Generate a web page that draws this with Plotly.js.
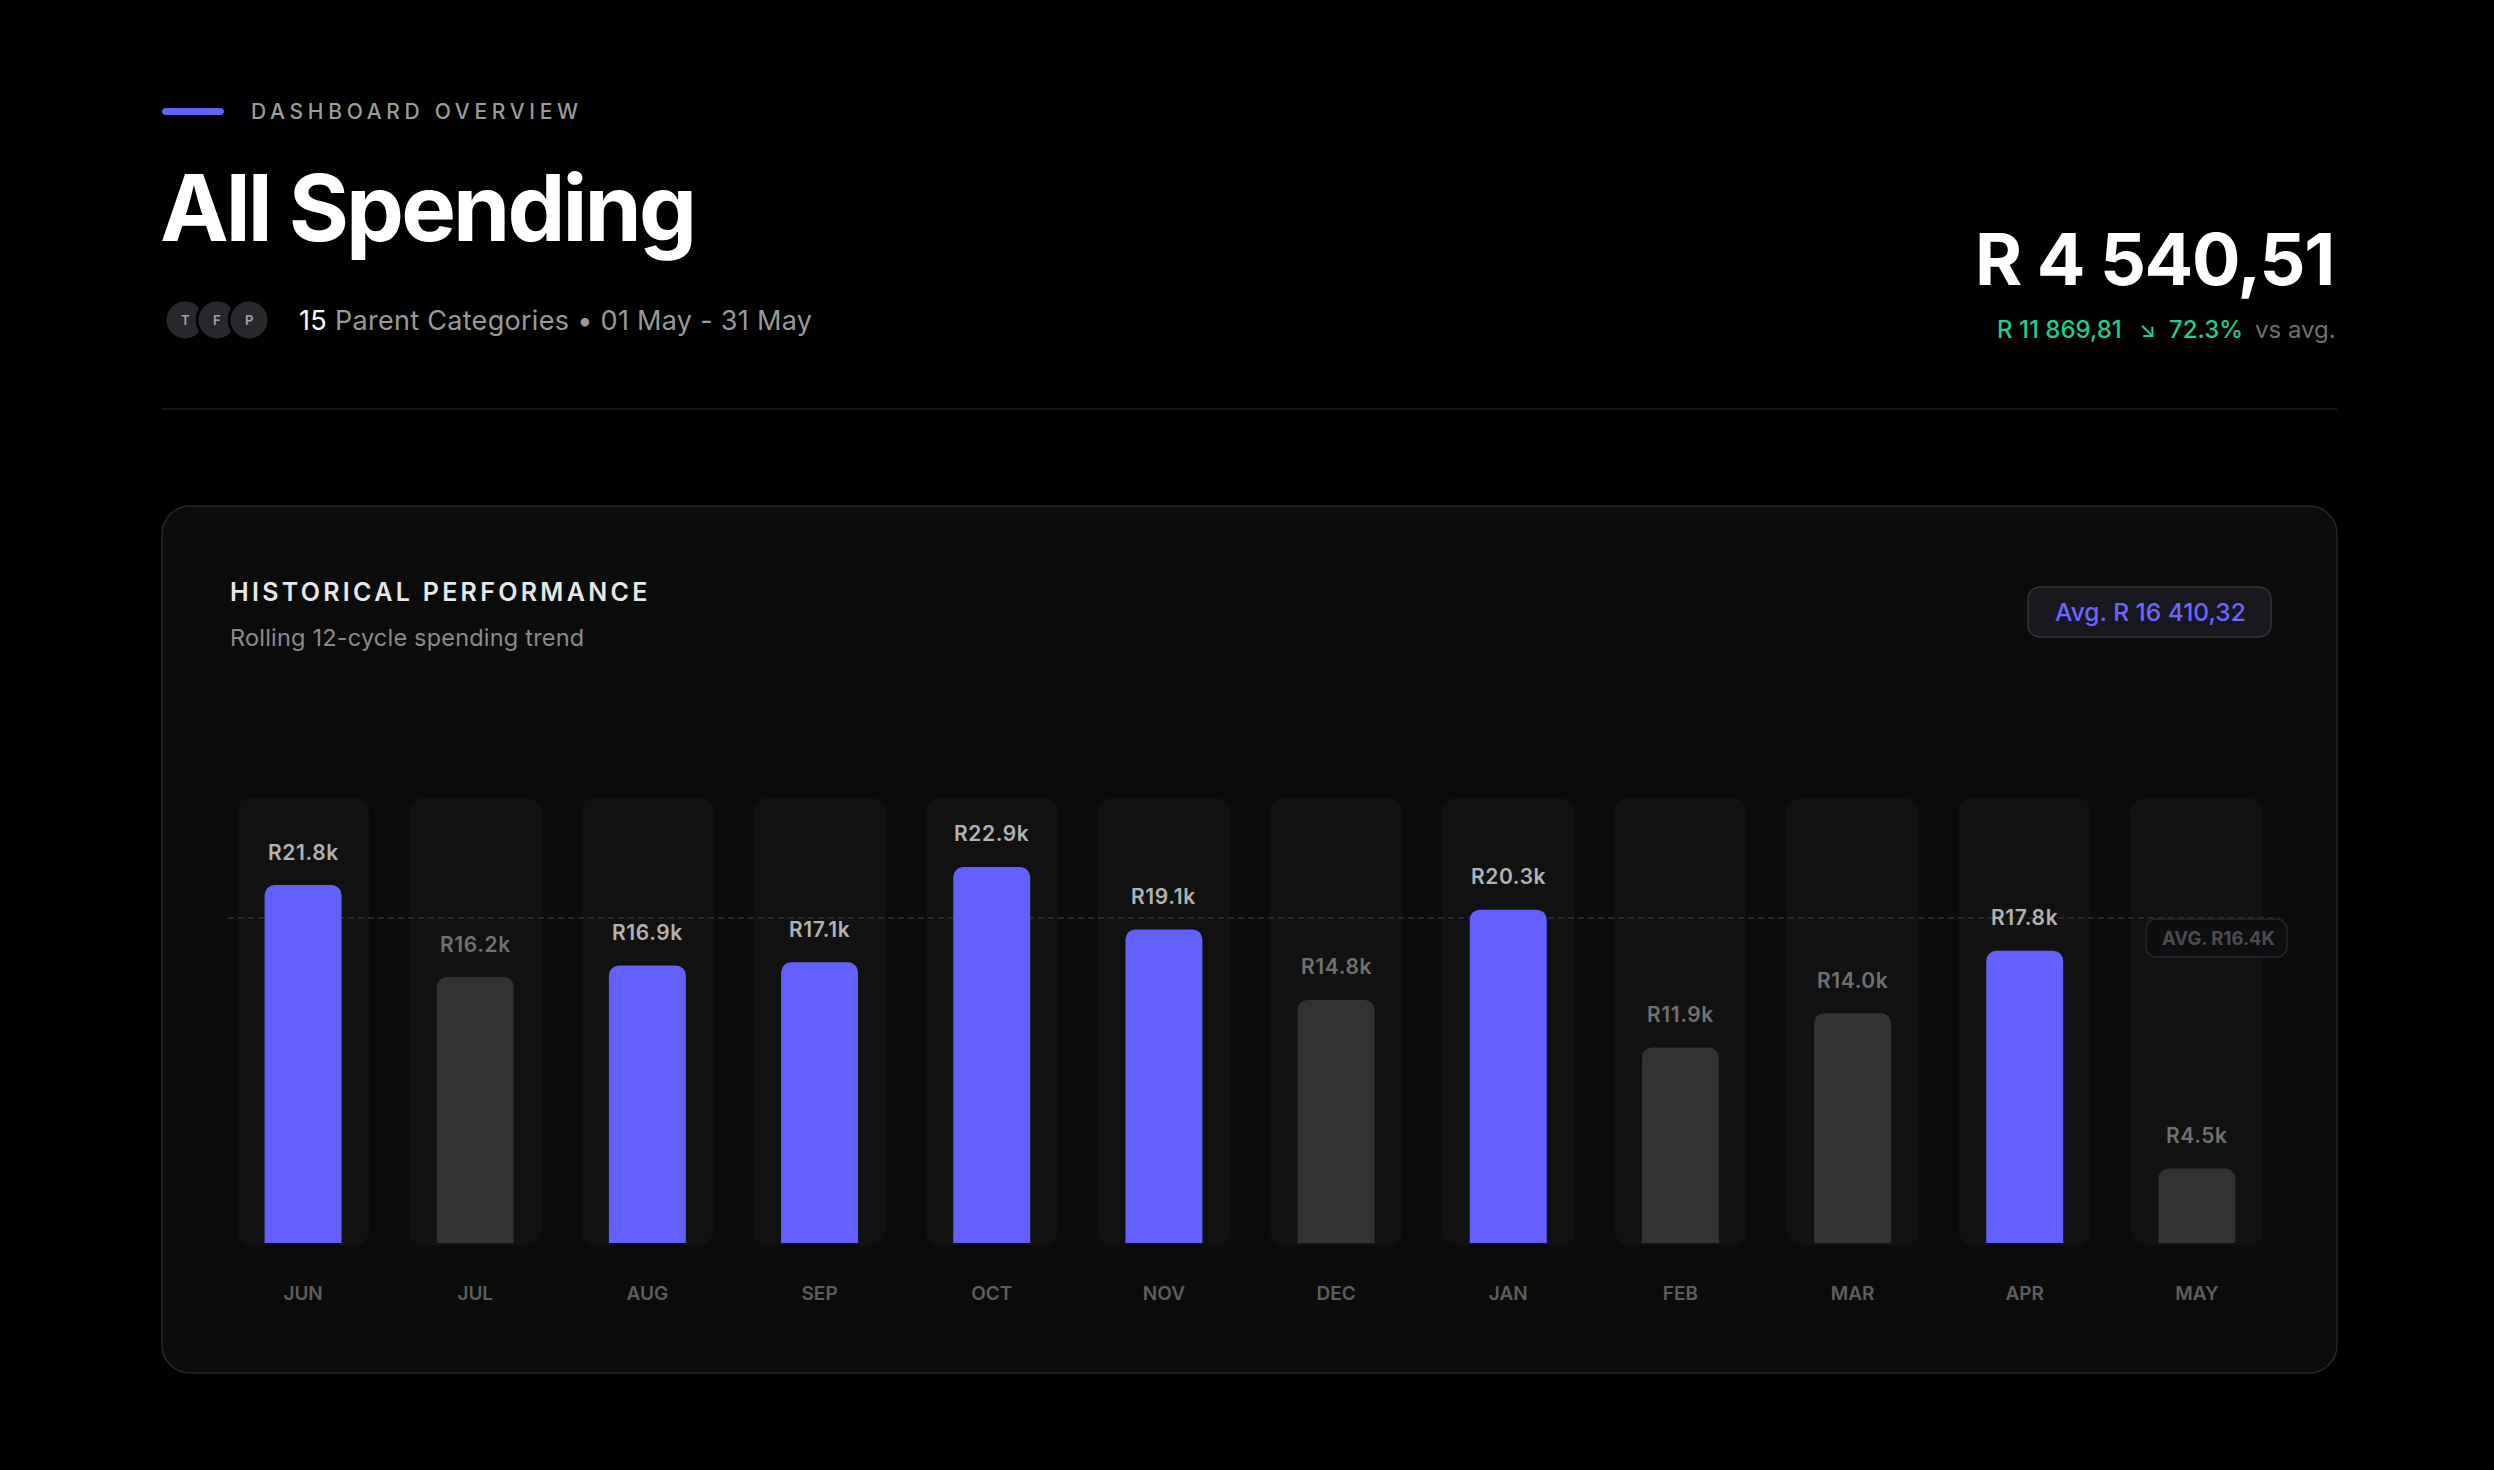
<!DOCTYPE html>
<html>
<head>
<meta charset="utf-8">
<script src="https://cdn.plot.ly/plotly-3.0.1.min.js"></script>
<style>
html,body{margin:0;padding:0;background:#000;overflow:hidden;}
#chart{width:2494px;height:1470px;}
</style>
</head>
<body>
<div id="chart"></div>
<script>
// ---------------- DATA ----------------
const months = ['JUN','JUL','AUG','SEP','OCT','NOV','DEC','JAN','FEB','MAR','APR','MAY'];
const spending = [21800, 16200, 16900, 17100, 22900, 19100, 14800, 20300, 11900, 14000, 17800, 4540.51];
const averageSpend = 16410.32;
const avgGuideLevel = 19800;      // where the dashed average guide is drawn in the reference
const parentCategories = 15;
const periodLabel = '01 May - 31 May';
const avatarLetters = ['T', 'F', 'P'];

// ---------------- GEOMETRY / STYLE ----------------
const W = 2494, H = 1470;
const M = {l: 217, r: 211, t: 798, b: 224};
const plotW = W - M.l - M.r, plotH = H - M.t - M.b;
const plotBottom = H - M.b;
const xRange = [-0.5, months.length - 0.5];
const yRange = [-180, 27100];
const colTop = 27100, colBase = -150;
const pxPerX = plotW / (xRange[1] - xRange[0]);
const pxPerY = plotH / (yRange[1] - yRange[0]);

const BLUE = '#6360ff', GREY_BAR = '#323232', FONT = 'Inter, Roboto, "Noto Sans", sans-serif';

const px2x = p => (p - M.l) / plotW;
const py2y = p => (plotBottom - p) / plotH;

function rounded(x0, x1, yb, yt, rx, ry) {
  const c = 0.5523, f = v => v.toFixed(6);
  return 'M' + f(x0 + rx) + ',' + f(yt) +
    ' L' + f(x1 - rx) + ',' + f(yt) +
    ' C' + f(x1 - rx + c * rx) + ',' + f(yt) + ' ' + f(x1) + ',' + f(yt - ry + c * ry) + ' ' + f(x1) + ',' + f(yt - ry) +
    ' L' + f(x1) + ',' + f(yb + ry) +
    ' C' + f(x1) + ',' + f(yb + ry - c * ry) + ' ' + f(x1 - rx + c * rx) + ',' + f(yb) + ' ' + f(x1 - rx) + ',' + f(yb) +
    ' L' + f(x0 + rx) + ',' + f(yb) +
    ' C' + f(x0 + rx - c * rx) + ',' + f(yb) + ' ' + f(x0) + ',' + f(yb + ry - c * ry) + ' ' + f(x0) + ',' + f(yb + ry) +
    ' L' + f(x0) + ',' + f(yt - ry) +
    ' C' + f(x0) + ',' + f(yt - ry + c * ry) + ' ' + f(x0 + rx - c * rx) + ',' + f(yt) + ' ' + f(x0 + rx) + ',' + f(yt) + ' Z';
}
function paperRect(px0, py0, px1, py1, r) {
  return rounded(px2x(px0), px2x(px1), py2y(py1), py2y(py0), r / plotW, r / plotH);
}

function fmtRand(v) {
  const parts = v.toFixed(2).split('.');
  const intPart = parts[0].replace(/\B(?=(\d{3})+(?!\d))/g, ' ');
  return 'R ' + intPart + ',' + parts[1];
}

const current = spending[spending.length - 1];
const diff = averageSpend - current;
const pct = diff / averageSpend * 100;

// ---------------- SHAPES ----------------
const shapes = [];
// card
shapes.push({type: 'path', xref: 'paper', yref: 'paper', layer: 'below',
  path: paperRect(162, 506, 2337, 1373, 28), fillcolor: '#0b0b0b', line: {color: '#27272c', width: 1.5}});
// divider
shapes.push({type: 'line', xref: 'paper', yref: 'paper', layer: 'below',
  x0: px2x(162), x1: px2x(2337), y0: py2y(409), y1: py2y(409), line: {color: '#1e1e1e', width: 1.5}});
// accent bar
shapes.push({type: 'path', xref: 'paper', yref: 'paper', layer: 'below',
  path: paperRect(162, 108, 224, 115, 3.5), fillcolor: BLUE, line: {width: 0}});
// avatars
avatarLetters.forEach((_, i) => {
  const cx = 185 + i * 32, cy = 320, r = 20;
  shapes.push({type: 'circle', xref: 'paper', yref: 'paper', layer: 'below',
    x0: px2x(cx - r), x1: px2x(cx + r), y0: py2y(cy + r), y1: py2y(cy - r),
    fillcolor: '#29292d', line: {color: '#000000', width: 3}});
});
// background columns (data coordinates)
const colHalf = 0.767 / 2;
months.forEach((_, i) => {
  shapes.push({type: 'path', xref: 'x', yref: 'y', layer: 'below',
    path: rounded(i - colHalf, i + colHalf, colBase, colTop, 14 / pxPerX, 14 / pxPerY),
    fillcolor: '#111111', line: {width: 0}});
});
// dashed average guide
shapes.push({type: 'line', xref: 'x', yref: 'y', layer: 'below',
  x0: xRange[0] + 11 / pxPerX, x1: xRange[1] - 4 / pxPerX, y0: avgGuideLevel, y1: avgGuideLevel,
  line: {color: '#303036', width: 1.5, dash: '6px,4px'}});
// avg pill (header of card)
shapes.push({type: 'path', xref: 'paper', yref: 'paper', layer: 'above',
  path: paperRect(2028, 587, 2271, 637, 12), fillcolor: '#18181e', line: {color: '#34343c', width: 1.5}});
// avg pill on chart
shapes.push({type: 'path', xref: 'paper', yref: 'paper', layer: 'above',
  path: paperRect(2146, 919, 2287, 957, 10), fillcolor: '#0e0e10', line: {color: '#26262c', width: 1.5}});

// ---------------- ANNOTATIONS ----------------
const annotations = [];
function ann(text, px, py, o) {
  annotations.push(Object.assign({
    text: text, xref: 'paper', yref: 'paper', x: px2x(px), y: py2y(py),
    xanchor: 'left', yanchor: 'middle', align: 'left', showarrow: false, borderpad: 0
  }, o));
}
function font(size, color, weight) { return {family: FONT, size: size, color: color, weight: weight || 400}; }

ann('<span style="letter-spacing:4.7px">DASHBOARD OVERVIEW</span>', 250, 111, {font: font(21, '#9c9c9c', 500)});
ann('<span style="letter-spacing:-2.9px">All Spending</span>', 159, 207, {font: font(92, '#ffffff', 700)});
avatarLetters.forEach((t, i) => {
  ann(t, 185 + i * 32, 320, {xanchor: 'center', align: 'center', font: font(13, '#a3a3a3', 600)});
});
ann('<span style="letter-spacing:0.3px"><span style="color:#ffffff">' + parentCategories + '</span> Parent Categories • ' + periodLabel + '</span>', 298, 320,
  {font: font(27, '#9a9a9a', 400)});

ann('<span style="letter-spacing:-1.3px">' + fmtRand(current) + '</span>', 2335, 258,
  {xanchor: 'right', align: 'right', font: font(72, '#ffffff', 700)});
const GREEN = '#1fcc91';
ann(fmtRand(diff), 2123, 329, {xanchor: 'right', align: 'right', font: font(24, GREEN, 500)});
ann('↘', 2147, 329, {xanchor: 'center', align: 'center', font: font(22, GREEN, 500)});
ann(pct.toFixed(1) + '%', 2244, 329, {xanchor: 'right', align: 'right', font: font(24, GREEN, 500)});
ann('vs avg.', 2337, 329, {xanchor: 'right', align: 'right', font: font(24, '#707070', 400)});

ann('<span style="letter-spacing:3.3px">HISTORICAL PERFORMANCE</span>', 229, 592, {font: font(25, '#e8e8e8', 600)});
ann('<span style="letter-spacing:0.2px">Rolling 12-cycle spending trend</span>', 229, 637, {font: font(23.5, '#8b8b8b', 400)});
ann('Avg. ' + fmtRand(averageSpend), 2150, 612, {xanchor: 'center', align: 'center', font: font(24.5, '#6b67ff', 500)});
ann('AVG. R' + (averageSpend / 1000).toFixed(1) + 'K', 2218, 938,
  {xanchor: 'center', align: 'center', font: font(18.5, '#4c4c50', 700)});

// value labels (data coordinates)
spending.forEach((v, i) => {
  const above = v >= averageSpend;
  annotations.push({
    text: '<span style="letter-spacing:0.6px">R' + (v / 1000).toFixed(1) + 'k</span>', xref: 'x', yref: 'y', x: i, y: v,
    xanchor: 'center', yanchor: 'middle', yshift: 33, showarrow: false,
    font: font(21, above ? '#b2b2b2' : '#707070', 600)
  });
});

// ---------------- TRACES ----------------
const bars = {
  type: 'bar',
  x: months.map((_, i) => i),
  y: spending,
  width: 0.447,
  marker: {color: spending.map(v => v >= averageSpend ? BLUE : GREY_BAR), cornerradius: 10, line: {width: 0}},
  hoverinfo: 'skip',
  cliponaxis: false
};

const layout = {
  width: W, height: H,
  margin: {l: M.l, r: M.r, t: M.t, b: M.b, pad: 0, autoexpand: false},
  paper_bgcolor: '#000000',
  plot_bgcolor: 'rgba(0,0,0,0)',
  showlegend: false,
  barmode: 'overlay',
  xaxis: {
    range: xRange, tickvals: months.map((_, i) => i), ticktext: months,
    showgrid: false, zeroline: false, showline: false, ticks: '',
    ticklabelstandoff: 34,
    tickfont: {family: FONT, size: 19, color: '#5e5e5e', weight: 600},
    fixedrange: true
  },
  yaxis: {range: yRange, visible: false, showgrid: false, zeroline: false, fixedrange: true},
  shapes: shapes,
  annotations: annotations
};

Plotly.newPlot('chart', [bars], layout, {staticPlot: true, displayModeBar: false});
</script>
</body>
</html>
